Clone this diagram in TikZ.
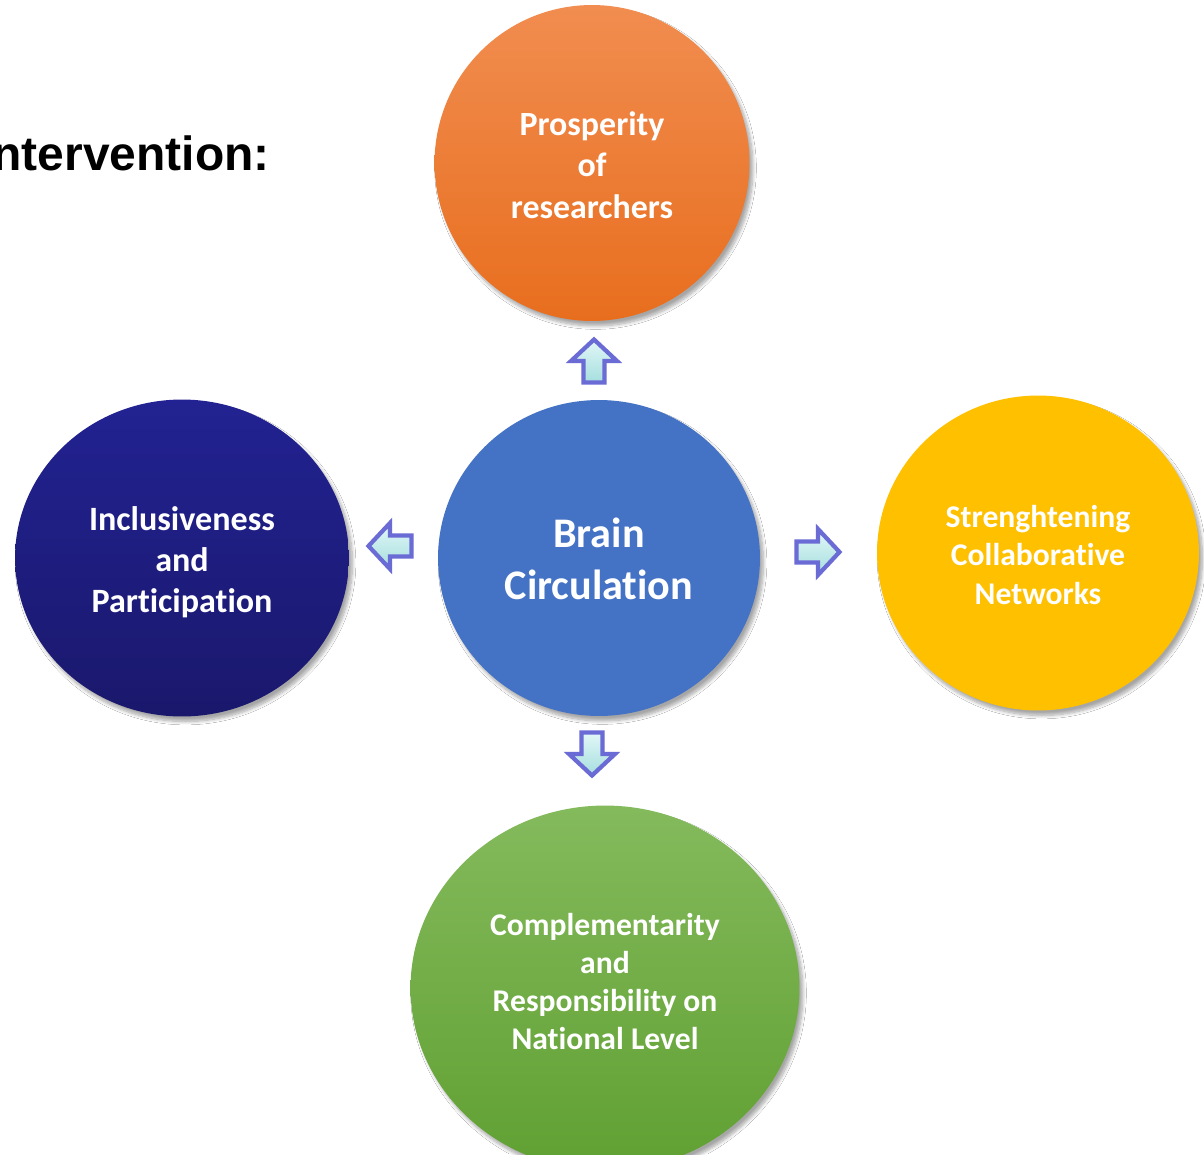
\documentclass[tikz,border=0pt]{standalone}
\usepackage{fontspec}
\setmainfont{Carlito}[RawFeature=-liga]
\newfontfamily\arialf{Liberation Sans}
\usetikzlibrary{shadows.blur,shapes.geometric}
\definecolor{arrowedge}{HTML}{6B6BD6}
\definecolor{arrowtop}{HTML}{E2F7F7}
\definecolor{arrowbot}{HTML}{A6DEDE}
\tikzset{
  bubble/.style={ellipse, inner sep=0pt,
    blur shadow={shadow xshift=0.07cm, shadow yshift=-0.1cm, shadow blur steps=8, shadow opacity=35}},
  bubbletext/.style={text=white, align=center, inner sep=0pt},
  blockarrow/.pic={
    \path[draw=arrowedge, line width=2.4pt, line join=miter, left color=arrowtop, right color=arrowbot, shading angle=0]
      (21.5,0) -- (0,23) -- (0,10.5) -- (-21.5,10.5) -- (-21.5,-10.5) -- (0,-10.5) -- (0,-23) -- cycle;
  }
}
\begin{document}
\begin{tikzpicture}[x=0.02cm, y=0.02cm]
\useasboundingbox (0,0) rectangle (1204,-1154);
\fill[white] (0,0) rectangle (1204,-1154);
\clip (0,0) rectangle (1204,-1154);

\node[anchor=east, font=\arialf\bfseries\fontsize{27.3}{30}\selectfont, text=black, inner sep=0pt] (title) at (270,-153) {ntervention:};

% shapes
\node[bubble, minimum width=6.44cm, minimum height=6.32cm, fill={rgb,255:red,68;green,114;blue,196}] (brain) at (599,-558) {};
\node[bubble, minimum width=6.30cm, minimum height=6.32cm, top color={rgb,255:red,241;green,141;blue,80}, bottom color={rgb,255:red,232;green,110;blue,30}] (prosp) at (592,-163) {};
\node[bubble, minimum width=6.68cm, minimum height=6.34cm, top color={rgb,255:red,34;green,34;blue,146}, bottom color={rgb,255:red,26;green,24;blue,108}] (incl) at (182,-558) {};
\node[bubble, minimum width=6.44cm, minimum height=6.30cm, fill={rgb,255:red,255;green,192;blue,0}] (streng) at (1038,-553) {};
\node[bubble, minimum width=7.78cm, minimum height=7.3cm, top color={rgb,255:red,132;green,186;blue,92}, bottom color={rgb,255:red,96;green,160;blue,50}] (compl) at (605,-988) {};

% texts
\node[bubbletext, font=\bfseries\fontsize{24}{29.5}\selectfont] (braint) at ([yshift=-0.02cm]brain.center) {Brain\\Circulation};
\node[bubbletext, font=\bfseries\fontsize{19.3}{23.5}\selectfont] (prospt) at ([yshift=-0.04cm]prosp.center) {Prosperity\\of\\researchers};
\node[bubbletext, font=\bfseries\fontsize{19.4}{23.2}\selectfont] (inclt) at ([yshift=-0.08cm]incl.center) {Inclusiveness\\and\\Participation};
\node[bubbletext, font=\bfseries\fontsize{18}{21.8}\selectfont] (strengt) at ([yshift=-0.04cm]streng.center) {Strenghtening\\Collaborative\\Networks};
\node[bubbletext, font=\bfseries\fontsize{18}{21.8}\selectfont] (complt) at ([yshift=0.13cm]compl.center) {Complementarity\\and\\Responsibility on\\National Level};

% block arrows
\pic[rotate=90] at (594,-361) {blockarrow};
\pic[rotate=180] at (390,-546) {blockarrow};
\pic at (818,-552) {blockarrow};
\pic[rotate=-90] at (592,-754) {blockarrow};
\end{tikzpicture}
\end{document}
